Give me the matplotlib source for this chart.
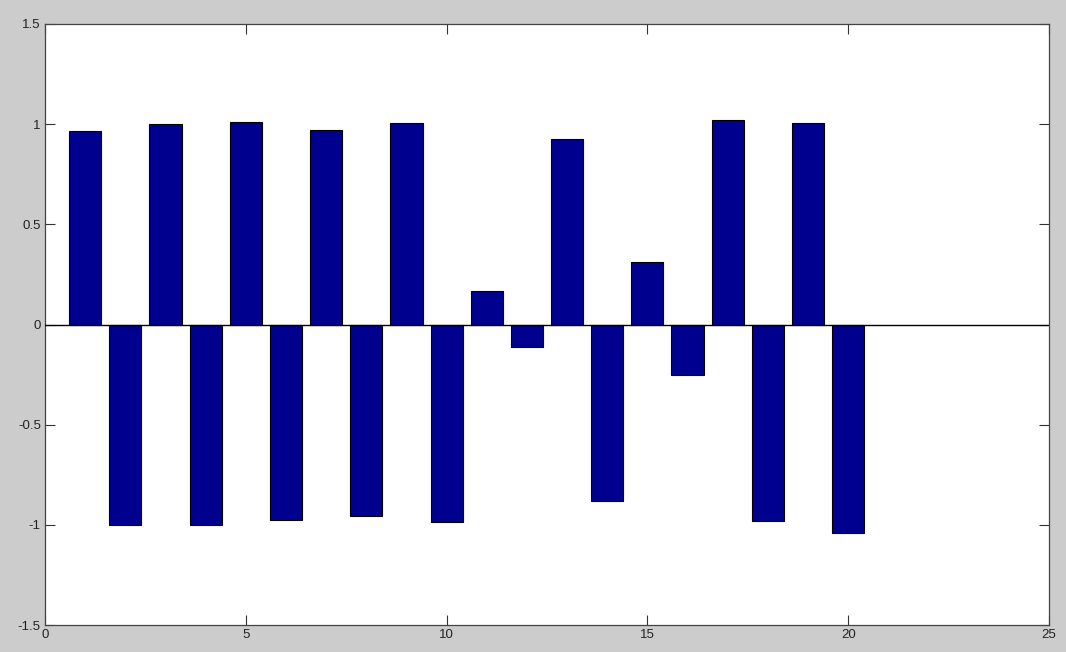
import numpy as np
import matplotlib
matplotlib.use("Agg")
import matplotlib.pyplot as plt

# bar heights, one per index 1..20
idx = np.arange(1, 21)
vals = [0.966, -1.0, 1.0, -1.0, 1.01, -0.976, 0.97, -0.956, 1.006, -0.986,
        0.169, -0.111, 0.926, -0.881, 0.31, -0.254, 1.021, -0.981, 1.006, -1.041]

xticks = [0, 5, 10, 15, 20, 25]
yticks = [-1.5, -1.0, -0.5, 0.0, 0.5, 1.0, 1.5]
yticklabels = ["-1.5", "-1", "-0.5", "0", "0.5", "1", "1.5"]

plt.rcParams["font.family"] = ["Liberation Sans", "DejaVu Sans"]

fig = plt.figure(figsize=(10.66, 6.52), dpi=100, facecolor="#cccccc")
ax = fig.add_axes([45 / 1066, 27 / 652, 1004 / 1066, 601 / 652])
ax.set_facecolor("white")

ax.bar(idx, vals, width=0.8, color="#00008f", edgecolor="black", linewidth=0.8, zorder=2)
ax.axhline(0, color="black", lw=1.0, zorder=3)

ax.set_xlim(0, 25)
ax.set_ylim(-1.5, 1.5)
ax.set_xticks(xticks)
ax.set_xticklabels([str(t) for t in xticks])
ax.set_yticks(yticks)
ax.set_yticklabels(yticklabels)
ax.tick_params(direction="in", length=7, width=0.8, top=True, right=True,
               labelsize=9.5, pad=3, colors="#333333", labelcolor="#222222")
for s in ax.spines.values():
    s.set_color("#444444")
    s.set_linewidth(0.9)

fig.savefig("out.png", dpi=100, facecolor=fig.get_facecolor())
